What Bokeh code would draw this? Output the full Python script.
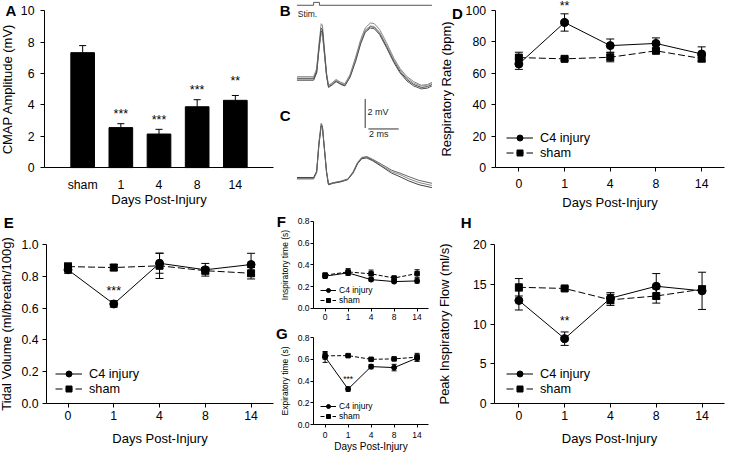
from bokeh.plotting import figure
from bokeh.models import (Range1d, FixedTicker, Whisker, TeeHead, ColumnDataSource,
                          Label, Legend, LegendItem, PrintfTickFormatter)
from bokeh.layouts import row, column
from bokeh.embed import file_html
from bokeh.resources import INLINE

FONT = "Liberation Sans"

# ------------------------------------------------------------------ data
days = ["0", "1", "4", "8", "14"]

cmap_groups = ["sham", "1", "4", "8", "14"]
cmap_mean = [7.33, 2.55, 2.14, 3.88, 4.29]
cmap_sem = [0.45, 0.25, 0.30, 0.45, 0.31]
cmap_sig = ["", "***", "***", "***", "**"]
cmap_sig_y = [0, 3.4, 3.04, 4.97, 5.52]

rr_c4 = [65.8, 92.2, 77.5, 78.9, 72.2]
rr_c4_sem = [3.4, 5.5, 4.2, 3.5, 4.5]
rr_sham = [69.9, 69.1, 70.1, 74.2, 69.3]
rr_sham_sem = [3.4, 1.0, 2.9, 1.4, 2.2]

tv_c4 = [0.843, 0.627, 0.884, 0.843, 0.876]
tv_c4_sem = [0.022, 0.02, 0.063, 0.04, 0.071]
tv_sham = [0.863, 0.857, 0.868, 0.837, 0.821]
tv_sham_sem = [0.023, 0.02, 0.08, 0.02, 0.036]

ti_c4 = [0.296, 0.326, 0.264, 0.246, 0.252]
ti_c4_sem = [0.02, 0.02, 0.012, 0.012, 0.02]
ti_sham = [0.305, 0.335, 0.317, 0.279, 0.32]
ti_sham_sem = [0.02, 0.03, 0.035, 0.012, 0.035]

te_c4 = [0.622, 0.326, 0.533, 0.524, 0.612]
te_c4_sem = [0.05, 0.02, 0.02, 0.03, 0.03]
te_sham = [0.632, 0.634, 0.600, 0.604, 0.620]
te_sham_sem = [0.03, 0.008, 0.008, 0.008, 0.035]

pif_c4 = [12.98, 8.16, 13.27, 14.78, 14.2]
pif_c4_sem = [1.2, 0.85, 0.7, 1.6, 2.35]
pif_sham = [14.65, 14.5, 13.06, 13.55, 14.4]
pif_sham_sem = [1.1, 0.2, 0.7, 0.9, 0.4]

# CMAP example traces (time in ms, amplitude in mV)
trace_t_B = [0, 1.1, 1.3, 1.45, 1.6, 1.68, 1.8, 1.95, 2.08, 2.3, 2.58, 2.9, 3.16, 3.5,
             3.87, 4.2, 4.5, 4.84, 5.1, 5.45, 5.9, 6.4, 6.8, 7.25, 7.7, 8.2, 8.6, 8.9]
trace_B1 = [0.05, 0.05, 0.6, 2.4, 3.8, 3.7, 2.2, 0.4, -0.45, -0.3, -0.05, -0.25, -0.35, 0.3,
            1.5, 2.7, 3.5, 3.85, 3.8, 3.4, 2.5, 1.4, 0.7, 0.15, -0.2, -0.45, -0.4, -0.25]
trace_B2 = [-0.1, -0.1, 0.4, 2.0, 3.3, 3.2, 1.9, 0.2, -0.55, -0.4, -0.15, -0.35, -0.45, 0.15,
            1.3, 2.5, 3.3, 3.6, 3.55, 3.15, 2.25, 1.2, 0.5, -0.05, -0.4, -0.6, -0.55, -0.4]
trace_B3 = [0.15, 0.15, 0.7, 2.2, 3.1, 3.0, 1.8, 0.3, -0.5, -0.35, -0.1, -0.3, -0.4, 0.2,
            1.35, 2.55, 3.35, 3.65, 3.6, 3.2, 2.35, 1.3, 0.6, 0.05, -0.3, -0.5, -0.45, -0.3]
trace_B4 = [0.0, 0.0, 0.5, 2.1, 3.5, 3.4, 2.0, 0.3, -0.6, -0.45, -0.2, -0.4, -0.5, 0.1,
            1.2, 2.4, 3.2, 3.5, 3.45, 3.05, 2.15, 1.1, 0.4, -0.15, -0.5, -0.7, -0.65, -0.5]

trace_t_C = [0, 1.1, 1.3, 1.45, 1.6, 1.68, 1.8, 1.95, 2.08, 2.4, 2.9, 3.35, 3.7, 4.0,
             4.28, 4.6, 5.0, 5.6, 6.25, 6.8, 7.4, 8.05, 8.9]
trace_C1 = [0, 0, 0.5, 2.5, 3.8, 3.6, 2.2, 0.5, -0.4, -0.3, -0.2, -0.05, 0.45, 1.1,
            1.45, 1.45, 1.25, 0.85, 0.45, 0.25, -0.05, -0.3, -0.5]
trace_C2 = [0.05, 0.05, 0.45, 2.3, 3.6, 3.5, 2.1, 0.4, -0.45, -0.35, -0.25, -0.1, 0.35, 1.0,
            1.35, 1.4, 1.2, 0.8, 0.35, 0.1, -0.2, -0.45, -0.65]
trace_C3 = [-0.05, -0.05, 0.4, 2.4, 3.7, 3.55, 2.15, 0.45, -0.42, -0.32, -0.22, -0.08, 0.4, 1.05,
            1.4, 1.5, 1.3, 0.95, 0.55, 0.35, 0.1, -0.15, -0.35]

stim_t = [0, 1.1, 1.1, 1.48, 1.48, 8.9]
stim_v = [5.07, 5.07, 5.27, 5.27, 5.07, 5.07]

scale_mv = 2
scale_ms = 2


# ------------------------------------------------------------------ helpers
def ranges(W, H, L, R, T, B, x0, x1, y0, y1):
    """Ranges so that data box (x0..x1, y0..y1) occupies pixels L..R / T..B."""
    kx = (x1 - x0) / (R - L)
    ky = (y1 - y0) / (B - T)
    return (Range1d(x0 - L * kx, x1 + (W - R) * kx),
            Range1d(y0 - (H - B) * ky, y1 + T * ky))


def make_fig(w, h, xr, yr):
    p = figure(width=w, height=h, x_range=xr, y_range=yr, output_backend="svg",
               toolbar_location=None, min_border=0)
    p.outline_line_color = None
    p.xgrid.visible = False
    p.ygrid.visible = False
    p.background_fill_color = "white"
    p.border_fill_color = "white"
    return p


def style_axis(ax, tick_fs, label_fs, tick_out, label_standoff, title_standoff):
    ax.axis_line_color = "black"
    ax.axis_line_width = 1
    ax.major_tick_line_color = "black" if tick_out > 0 else None
    ax.major_tick_in = 0
    ax.major_tick_out = tick_out
    ax.minor_tick_line_color = None
    ax.major_label_standoff = label_standoff
    ax.major_label_text_font = FONT
    ax.major_label_text_font_size = tick_fs
    ax.major_label_text_color = "black"
    ax.axis_label_text_font = FONT
    ax.axis_label_text_font_size = label_fs
    ax.axis_label_text_font_style = "normal"
    ax.axis_label_text_color = "black"
    ax.axis_label_standoff = title_standoff


def setup_axes(p, x0, x1, y0, y1):
    xa, ya = p.xaxis[0], p.yaxis[0]
    xa.fixed_location = y0
    ya.fixed_location = x0
    xa.bounds = (x0, x1)
    ya.bounds = (y0, y1)
    return xa, ya


def letter(p, txt, x, y, size="15px"):
    p.add_layout(Label(x=x, y=y, x_units="screen", y_units="screen", text=txt,
                       text_font=FONT, text_font_size=size, text_font_style="bold",
                       text_align="center", text_baseline="middle", text_color="black"))


def star(p, txt, x, y, size):
    p.add_layout(Label(x=x, y=y, text=txt, text_font=FONT, text_font_size=size,
                       text_align="center", text_baseline="middle", text_color="black"))


def line_panel(W, H, L, R, T, B, xlim, ylim, yticks, yfmt, c4, c4e, sh, she,
               ylabel, xlabel, tick_fs, lab_fs, xlab_fs, ytick_out, xtick_out,
               ylab_so, ytitle_so, xlab_so, xtitle_so, ms_c, ms_s, cap, dash,
               leg_loc, leg_fs, leg_gw, leg_gh, leg_so):
    xr, yr = ranges(W, H, L, R, T, B, xlim[0], xlim[1], ylim[0], ylim[1])
    p = make_fig(W, H, xr, yr)
    xs = list(range(len(days)))
    src_c = ColumnDataSource(dict(x=xs, y=c4, lo=[m - e for m, e in zip(c4, c4e)],
                                  hi=[m + e for m, e in zip(c4, c4e)]))
    src_s = ColumnDataSource(dict(x=xs, y=sh, lo=[m - e for m, e in zip(sh, she)],
                                  hi=[m + e for m, e in zip(sh, she)]))
    for src in (src_s, src_c):
        p.add_layout(Whisker(base="x", upper="hi", lower="lo", source=src,
                             line_color="black", line_width=1,
                             upper_head=TeeHead(size=cap, line_color="black", line_width=1),
                             lower_head=TeeHead(size=cap, line_color="black", line_width=1)))
    l2 = p.line("x", "y", source=src_s, line_color="black", line_width=1, line_dash=dash)
    s2 = p.scatter("x", "y", source=src_s, marker="square", size=ms_s,
                   fill_color="black", line_color="black")
    l1 = p.line("x", "y", source=src_c, line_color="black", line_width=1)
    s1 = p.scatter("x", "y", source=src_c, marker="circle", size=ms_c,
                   fill_color="black", line_color="black")
    xa, ya = setup_axes(p, xlim[0], xlim[1], ylim[0], ylim[1])
    xa.ticker = FixedTicker(ticks=xs)
    xa.major_label_overrides = {i: d for i, d in enumerate(days)}
    ya.ticker = FixedTicker(ticks=yticks)
    ya.formatter = PrintfTickFormatter(format=yfmt)
    style_axis(xa, tick_fs, xlab_fs, xtick_out, xlab_so, xtitle_so)
    style_axis(ya, tick_fs, lab_fs, ytick_out, ylab_so, ytitle_so)
    xa.axis_label = xlabel
    ya.axis_label = ylabel
    leg = Legend(items=[LegendItem(label="C4 injury", renderers=[l1, s1]),
                        LegendItem(label="sham", renderers=[l2, s2])],
                 location=leg_loc, orientation="vertical", border_line_color=None,
                 background_fill_alpha=0, padding=0, margin=0, spacing=0,
                 glyph_width=leg_gw, glyph_height=leg_gh, label_height=leg_gh,
                 label_standoff=leg_so, label_text_font=FONT,
                 label_text_font_size=leg_fs, label_text_color="black")
    p.add_layout(leg)
    return p


# ------------------------------------------------------------------ panel A
xr_a, yr_a = ranges(274, 215, 44.0, 273.0, 10.3, 167.1, 0, 6, 0, 10)
pa = make_fig(274, 215, xr_a, yr_a)
xa_pos = [i + 1 for i in range(len(cmap_groups))]
src_a = ColumnDataSource(dict(x=xa_pos, y=cmap_mean,
                              hi=[m + e for m, e in zip(cmap_mean, cmap_sem)]))
pa.add_layout(Whisker(base="x", upper="hi", lower="y", source=src_a, line_color="black",
                      upper_head=TeeHead(size=7, line_color="black"), lower_head=None))
pa.vbar(x="x", top="y", bottom=0, width=0.62, source=src_a, fill_color="black",
        line_color="black")
for xp, s, sy in zip(xa_pos, cmap_sig, cmap_sig_y):
    if s:
        star(pa, s, xp, sy, "12.5px")
axa, aya = setup_axes(pa, 0, 6, 0, 10)
axa.ticker = FixedTicker(ticks=xa_pos)
axa.major_label_overrides = {p_: g for p_, g in zip(xa_pos, cmap_groups)}
aya.ticker = FixedTicker(ticks=[0, 2, 4, 6, 8, 10])
style_axis(axa, "12.3px", "13px", 0, 10, -3)
style_axis(aya, "12.3px", "13px", 4, 6, 3)
axa.axis_label = "Days Post-Injury"
aya.axis_label = "CMAP Amplitude (mV)"
letter(pa, "A", 10.3, 205.3)

# ------------------------------------------------------------------ panels B, C
pb = make_fig(164, 97, Range1d(-1.481, 9.334), Range1d(-1.295, 5.4))
pb.axis.visible = False
for tr, col in zip([trace_B1, trace_B2, trace_B3, trace_B4], ["#888", "#444", "#999", "#555"]):
    pb.line(trace_t_B, tr, line_color=col, line_width=1)
pb.line(stim_t, stim_v, line_color="#555", line_width=1)
pb.add_layout(Label(x=0.06, y=4.47, text="Stim.", text_font=FONT, text_font_size="8.5px",
                    text_align="left", text_baseline="middle", text_color="#222"))
letter(pb, "B", 10.7, 87.3)

pc = make_fig(164, 114, Range1d(-1.481, 9.334), Range1d(-2.297, 5.571))
pc.axis.visible = False
for tr, col in zip([trace_C1, trace_C2, trace_C3], ["#888", "#444", "#666"]):
    pc.line(trace_t_C, tr, line_color=col, line_width=1)
sb_x, sb_y = 4.5, 3.47
pc.line([sb_x, sb_x], [sb_y, sb_y + scale_mv], line_color="#333", line_width=1)
pc.line([sb_x + 0.21, sb_x + 0.21 + scale_ms], [sb_y - 0.07, sb_y - 0.07],
        line_color="#333", line_width=1)
pc.add_layout(Label(x=sb_x + 0.15, y=4.6, text="%d mV" % scale_mv, text_font=FONT,
                    text_font_size="9px", text_align="left", text_baseline="middle",
                    text_color="#222"))
pc.add_layout(Label(x=5.4, y=3.05, text="%d ms" % scale_ms, text_font=FONT,
                    text_font_size="9px", text_align="center", text_baseline="middle",
                    text_color="#222"))
letter(pc, "C", 10.7, 96.1)

# ------------------------------------------------------------------ panel D
pd_ = line_panel(287, 215, 56.6, 286.0, 9.7, 167.1, (-0.52, 4.5), (0, 100),
                 [0, 20, 40, 60, 80, 100], "%d", rr_c4, rr_c4_sem, rr_sham, rr_sham_sem,
                 "Respiratory Rate (bpm)", "Days Post-Injury", "12.3px", "13px", "13px",
                 4, 4, 5, 9, 7, 4, 8, 7, 8, "7 3", (68, 55), "12.7px", 27, 15, 7)
star(pd_, "**", 1, 102.6, "12.5px")
letter(pd_, "D", 18.9, 202.4)

# ------------------------------------------------------------------ panel E
pe = line_panel(274, 238, 46.0, 273.0, 29.4, 187.8, (-0.47, 4.49), (0, 1.0),
                [0, 0.2, 0.4, 0.6, 0.8, 1.0], "%.1f", tv_c4, tv_c4_sem, tv_sham, tv_sham_sem,
                "Tidal Volume (ml/breath/100g)", "Days Post-Injury", "12.3px", "13px", "13px",
                4, 4, 4, 4, 4, 7, 8, 7, 8, "7 3", (55, 57), "12.7px", 27, 15, 7)
star(pe, "***", 1, 0.71, "12.5px")
letter(pe, "E", 8.3, 230.8)

# ------------------------------------------------------------------ panel H
ph = line_panel(287, 238, 56.1, 286.0, 29.4, 187.8, (-0.53, 4.49), (0, 20),
                [0, 5, 10, 15, 20], "%d", pif_c4, pif_c4_sem, pif_sham, pif_sham_sem,
                "Peak Inspiratory Flow (ml/s)", "Days Post-Injury", "12.3px", "13px", "13px",
                4, 4, 4, 18, 4, 7, 8, 7, 8, "7 3", (68, 57), "12.7px", 27, 15, 7)
star(ph, "**", 1, 10.4, "12px")
letter(ph, "H", 27.7, 230.8)

# ------------------------------------------------------------------ panels F, G
pf = line_panel(164, 112, 39.1, 154.1, 9.9, 96.8, (-0.5, 4.5), (0, 0.8),
                [0, 0.2, 0.4, 0.6, 0.8], "%.1f", ti_c4, ti_c4_sem, ti_sham, ti_sham_sem,
                "Inspiratory time (s)", "", "8.5px", "8.5px", "10px",
                3, 3, 1, 5, 3, 3, 5, 4.5, 5, "4 2", (46, 18), "8.5px", 16, 10, 3)
letter(pf, "F", 6.8, 101.8)

pg = line_panel(164, 130, 39.1, 154.1, 14.1, 101.0, (-0.5, 4.5), (0, 0.8),
                [0, 0.2, 0.4, 0.6, 0.8], "%.1f", te_c4, te_c4_sem, te_sham, te_sham_sem,
                "Expiratory time (s)", "Days Post-Injury", "8.5px", "8.5px", "10px",
                3, 3, 1, 5, 4, 0, 5, 4.5, 5, "4 2", (46, 32), "8.5px", 16, 10, 3)
star(pg, "***", 1, 0.415, "8.5px")
letter(pg, "G", 7.3, 119.8)

layout = row(column(pa, pe), column(pb, pc, pf, pg), column(pd_, ph))

with open("out.html", "w") as f:
    f.write(file_html(layout, INLINE))
